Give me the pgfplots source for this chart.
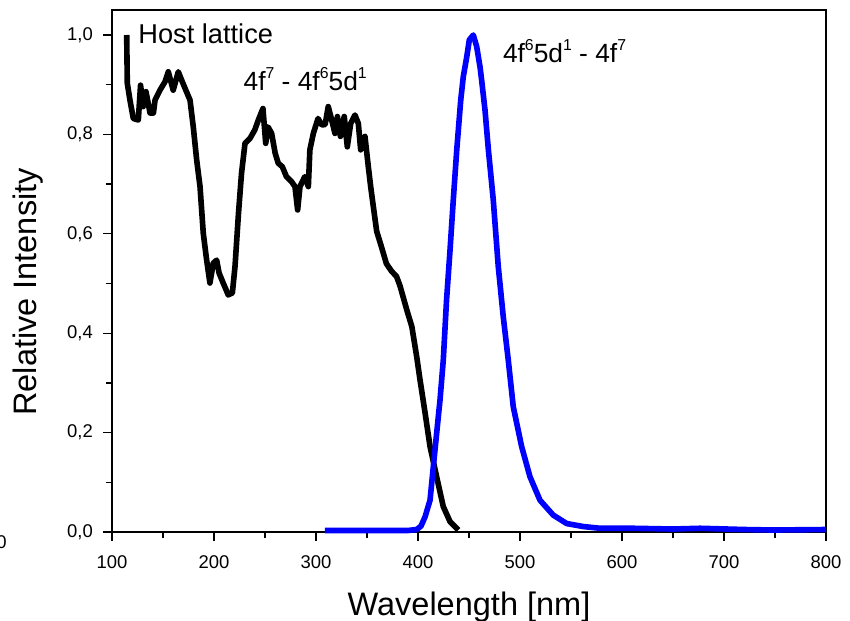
\documentclass[border=0pt]{standalone}
\usepackage{fontspec}
\setmainfont{Liberation Sans}
\usepackage{pgfplots}
\pgfplotsset{compat=1.18}
\newcommand{\sps}[1]{\raisebox{7pt}{\fontsize{9}{9}\selectfont #1}}

\begin{document}
\begin{tikzpicture}
\begin{axis}[
    at={(0,0)}, anchor=south west,
    scale only axis,
    width=14.28cm, height=10.44cm,
    xmin=100, xmax=800,
    ymin=0, ymax=1.0503,
    xtick={100,200,...,800},
    ytick={0,0.2,0.4,0.6,0.8,1.0},
    minor x tick num=1,
    minor y tick num=1,
    xtick pos=bottom, ytick pos=left,
    tick align=outside,
    major tick length=0.18cm,
    minor tick length=0.12cm,
    axis line style={line width=0.7pt},
    every tick/.style={line width=0.7pt, black},
    /pgf/number format/assume math mode=true,
    yticklabel style={xshift=-0.08cm, /pgf/number format/.cd, fixed, fixed zerofill, precision=1, use comma},
    xticklabel style={yshift=-0.16cm, /pgf/number format/.cd, fixed, precision=0, 1000 sep={}},
    ticklabel style={font=\fontsize{10.5}{12}\selectfont},
    xlabel={Wavelength [nm]},
    ylabel={Relative Intensity},
    label style={font=\fontsize{18.5}{22}\selectfont},
    xlabel style={at={(axis description cs:0.5,-0.159)}, anchor=base},
    ylabel style={at={(axis description cs:-0.117,0.46)}, anchor=center},
    clip=false,
]
% excitation (black)
\addplot[black, line width=3.2pt, line join=round] coordinates {
(114.4,1.0) (115,0.903) (117.6,0.869) (120.9,0.832) (125.8,0.829) (128,0.899)
(130.6,0.856) (133.3,0.886) (137.3,0.843) (140.6,0.843) (142.2,0.869) (147,0.889)
(152,0.906) (155.2,0.926) (160,0.889) (165,0.926) (168.3,0.909) (173,0.886)
(176.5,0.869) (179.7,0.815) (183,0.749) (186.3,0.695) (189.5,0.601) (192.8,0.547)
(196,0.501) (199.3,0.541) (202.6,0.547) (205,0.521) (209,0.501) (214,0.477)
(218,0.481) (220.6,0.534) (224,0.641) (227,0.722) (230.4,0.782) (235.3,0.792)
(240,0.809) (243.5,0.829) (248,0.852) (250.7,0.782) (253,0.815) (256.5,0.802)
(260,0.762) (263,0.742) (267,0.735) (271,0.715) (276,0.705) (279.4,0.695)
(282,0.648) (284.3,0.695) (289,0.715) (292.5,0.695) (294,0.769) (297.4,0.802)
(302,0.832) (305.6,0.819) (309,0.82) (312,0.856) (315.4,0.829) (318.6,0.802)
(321,0.836) (324,0.796) (327.7,0.836) (330.7,0.775) (334,0.822) (338.2,0.839)
(341.5,0.822) (343.8,0.769) (348,0.796) (351.3,0.735) (353.6,0.695) (356.2,0.655)
(359.5,0.605) (364,0.575) (369,0.54) (374,0.525) (379,0.514) (382.4,0.495)
(389,0.447) (394,0.413) (398.7,0.353) (402,0.306) (407,0.239) (411.8,0.172)
(418.3,0.111) (424.8,0.051) (431.4,0.021) (439.5,0.004)
};
% emission (blue)
\addplot[blue, line width=3.2pt, line join=round] coordinates {
(308.8,0.003) (350,0.003) (390,0.003) (398.7,0.005) (403,0.012) (407,0.031)
(411.8,0.064) (415,0.131) (418.3,0.199) (421.6,0.266) (424.8,0.346) (428,0.467)
(431.4,0.567) (434.6,0.668) (438,0.769) (441.9,0.869) (444.4,0.916) (447.8,0.956)
(450.3,0.99) (454.2,1.0) (457.5,0.977) (460.8,0.936) (462.4,0.909) (465.7,0.849)
(469,0.769) (472.2,0.702) (473.8,0.668) (478.7,0.534) (483.6,0.433) (488.5,0.346)
(493.4,0.252) (501.6,0.172) (509.8,0.111) (519.6,0.064) (532.6,0.034) (545.8,0.017)
(562,0.011) (578.4,0.0075) (611,0.0075) (650,0.006) (676.5,0.0075) (720,0.005)
(748,0.004) (800,0.005)
};
\node[anchor=base west, font=\fontsize{15.5}{18}\selectfont, inner sep=0pt]
  at (axis cs:125.5,0.982) {Host lattice};
\node[anchor=base west, font=\fontsize{15}{18}\selectfont, inner sep=0pt]
  at (axis cs:228.7,0.888) {4f\sps{7} - 4f\sps{6}5d\sps{1}};
\node[anchor=base west, font=\fontsize{15}{18}\selectfont, inner sep=0pt]
  at (axis cs:483,0.945) {4f\sps{6}5d\sps{1} - 4f\sps{7}};
\end{axis}
\node[font=\fontsize{10.5}{12}\selectfont] at (-2.21,-0.2) {0};
\pgfresetboundingbox
\path[use as bounding box] (-2.24,-1.76) rectangle (14.76,10.64);
\end{tikzpicture}
\end{document}
